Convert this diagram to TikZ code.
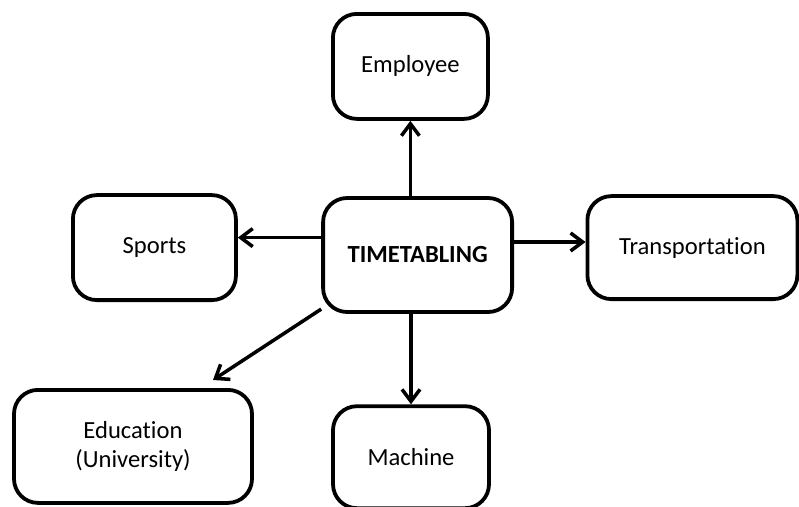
\documentclass[tikz,border=0pt]{standalone}
\usepackage{fontspec}
\setmainfont[Ligatures=NoCommon]{Carlito}
\usepackage{tikz}
\usetikzlibrary{arrows.meta}
\tikzset{box/.style={draw,line width=2.7pt,rounded corners=0.6cm,align=center,font=\fontsize{17.5}{20}\selectfont}}
\tikzset{arr/.style={line width=2.5pt,-{Straight Barb[length=0.3cm,width=0.45cm,line width=2.5pt]}}}

\begin{document}
\begin{tikzpicture}
\useasboundingbox (0,0) rectangle (19.975,-12.675);
\node[box,minimum width=4.725cm,minimum height=2.85cm,font=\fontsize{17.5}{20}\selectfont\bfseries] (tt) at (10.44,-6.375){TIMETABLING};
\node[box,minimum width=3.875cm,minimum height=2.625cm] (emp) at (10.26,-1.66){Employee};
\node[box,minimum width=4.075cm,minimum height=2.625cm] (sports) at (3.86,-6.19){Sports};
\node[box,minimum width=5.25cm,minimum height=2.575cm] (trans) at (17.31,-6.19){Transportation};
\node[box,minimum width=5.95cm,minimum height=2.825cm] (edu) at (3.325,-11.16){Education\\(University)};
\node[box,minimum width=3.9cm,minimum height=2.55cm] (mach) at (10.275,-11.43){Machine};
\coordinate (sportsin) at ([yshift=0.25cm]sports.east);
\coordinate (transin) at ([yshift=0.14cm]trans.west);
\coordinate (eduin) at ([xshift=2cm,yshift=0.2cm]edu.north);
\draw[arr] (tt.north -| emp.south) -- (emp.south);
\draw[arr] (tt.west |- sportsin) -- (sportsin);
\draw[arr] (tt.east |- transin) -- (transin);
\draw[arr] (tt.south -| mach.north) -- (mach.north);
\draw[arr] ([yshift=0.12cm]tt.south west) -- (eduin);
\end{tikzpicture}
\end{document}
